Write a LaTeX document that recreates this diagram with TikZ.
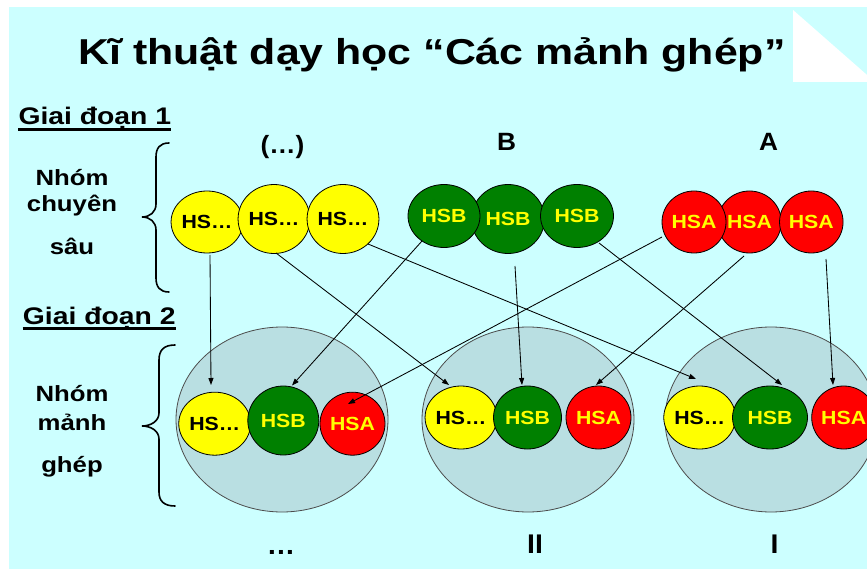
\documentclass[tikz,border=0pt]{standalone}
\usepackage{fontspec}
\setmainfont{Liberation Sans}
\usetikzlibrary{arrows.meta,calc,shapes.geometric}
\definecolor{bgcyan}{HTML}{CCFFFF}
\definecolor{grpfill}{HTML}{B9DFE2}
\definecolor{hsyellow}{HTML}{FFFF00}
\definecolor{hsgreen}{HTML}{008000}
\definecolor{hsred}{HTML}{FF0000}
\newcommand{\wide}[2]{\scalebox{#1}[1]{#2}}
\newcommand{\fs}[1]{\bfseries\fontsize{#1}{#1}\selectfont}

\begin{document}
\begin{tikzpicture}[x=1pt,y=-1pt,
  txt/.style={inner sep=0pt, anchor=base},
  stu/.style={ellipse, draw=black, line width=0.8pt, inner sep=0pt, font=\fs{19}},
  hsy/.style={stu, fill=hsyellow, text=black},
  hsg/.style={stu, fill=hsgreen, text=hsyellow},
  hsr/.style={stu, fill=hsred, text=hsyellow},
  group/.style={ellipse, draw=black!70, fill=grpfill, line width=0.8pt,
    minimum width=212pt, minimum height=185pt, inner sep=0pt},
  arr/.style={-{Triangle[length=7pt,width=5pt]}, line width=0.85pt},
  brace/.style={line width=1.6pt, line cap=round},
  uline/.style={line width=2.2pt}
]
\useasboundingbox (0,0) rectangle (867,569);

% page background and folded corner
\fill[white] (0,0) rectangle (867,569);
\fill[bgcyan] (9,7) rectangle (867,569);
\fill[white] (793,10) -- (793,82) -- (875,82) -- cycle;

% title
\node[txt, font=\fs{36}] (title) at (432,65)
  {\wide{1.19}{Kĩ thuật dạy học “Các mảnh ghép”}};

% stage headings
\node[txt, anchor=base west, font=\fs{24}] (stage1) at (18.3,125) {\wide{1.18}{Giai đoạn 1}};
\draw[uline] ([yshift=-4.5pt]stage1.base west) -- ([yshift=-4.5pt]stage1.base east);
\node[txt, anchor=base west, font=\fs{24}] (stage2) at (22.7,324) {\wide{1.18}{Giai đoạn 2}};
\draw[uline] ([yshift=-4.5pt]stage2.base west) -- ([yshift=-4.5pt]stage2.base east);

% side labels
\node[txt, font=\fs{22}] (n1a) at (72,185.7) {\wide{1.17}{Nhóm}};
\node[txt, font=\fs{22}] (n1b) at (72,211.7) {\wide{1.17}{chuyên}};
\node[txt, font=\fs{22}] (n1c) at (72,255) {\wide{1.17}{sâu}};
\node[txt, font=\fs{22}] (n2a) at (72,401.7) {\wide{1.17}{Nhóm}};
\node[txt, font=\fs{22}] (n2b) at (72,430) {\wide{1.17}{mảnh}};
\node[txt, font=\fs{22}] (n2c) at (72,472.7) {\wide{1.17}{ghép}};

% braces
\draw[brace] (169,143) .. controls (160,143) and (156,148) .. (156,157)
  -- (156,204) .. controls (156,212) and (150,217) .. (142,217)
  .. controls (150,217) and (156,222) .. (156,230)
  -- (156,278) .. controls (156,287) and (160,292) .. (169,292);
\draw[brace] (175,345) .. controls (164,345) and (159,350) .. (159,360)
  -- (159,413) .. controls (159,421) and (151,426) .. (142,426)
  .. controls (151,426) and (159,431) .. (159,439)
  -- (159,492) .. controls (159,501) and (164,506) .. (175,506);

% expert group labels
\node[txt, font=\fs{25}] (labx) at (282.5,154) {\wide{1.05}{(…)}};
\node[txt, font=\fs{25}] (labb) at (506.5,151) {\wide{1.05}{B}};
\node[txt, font=\fs{25}] (laba) at (768.5,151) {\wide{1.05}{A}};

% jigsaw groups
\node[group] (grp1) at (282,419.5) {};
\node[group] (grp2) at (528,419.5) {};
\node[group] (grp3) at (771,419.5) {};

% expert groups (stage 1)
\node[hsy, minimum width=64pt, minimum height=62pt] (sy1) at (207,222) {\wide{1.12}{HS…}};
\node[hsy, minimum width=69pt, minimum height=69pt] (sy2) at (274,219) {\wide{1.12}{HS…}};
\node[hsy, minimum width=70pt, minimum height=69pt] (sy3) at (343,219) {\wide{1.12}{HS…}};

\node[hsg, minimum width=73pt, minimum height=69pt] (sg2) at (508,219) {\wide{1.12}{HSB}};
\node[hsg, minimum width=72pt, minimum height=63pt] (sg1) at (444,216) {\wide{1.12}{HSB}};
\node[hsg, minimum width=73pt, minimum height=63pt] (sg3) at (577,216) {\wide{1.12}{HSB}};

\node[hsr, minimum width=63pt, minimum height=62pt] (sr2) at (749.5,222) {\wide{1.12}{HSA}};
\node[hsr, minimum width=64pt, minimum height=62pt] (sr1) at (694,222) {\wide{1.12}{HSA}};
\node[hsr, minimum width=63pt, minimum height=62pt] (sr3) at (811.3,222) {\wide{1.12}{HSA}};

% mixed groups (stage 2)
\node[hsy, minimum width=64pt, minimum height=63pt] (my1) at (214.7,423.7) {\wide{1.12}{HS…}};
\node[hsg, minimum width=71pt, minimum height=69pt] (mg1) at (283.3,420.5) {\wide{1.12}{HSB}};
\node[hsr, minimum width=65pt, minimum height=63pt] (mr1) at (352.5,423.7) {\wide{1.12}{HSA}};

\node[hsy, minimum width=64pt, minimum height=63pt] (my2) at (461,417.5) {\wide{1.12}{HS…}};
\node[hsg, minimum width=68pt, minimum height=63pt] (mg2) at (527.5,417.5) {\wide{1.12}{HSB}};
\node[hsr, minimum width=65pt, minimum height=63pt] (mr2) at (598.5,417.5) {\wide{1.12}{HSA}};

\node[hsy, minimum width=64pt, minimum height=63pt] (my3) at (699.7,417.5) {\wide{1.12}{HS…}};
\node[hsg, minimum width=75pt, minimum height=63pt] (mg3) at (770,417.5) {\wide{1.12}{HSB}};
\node[hsr, minimum width=64pt, minimum height=63pt] (mr3) at (843.7,417.5) {\wide{1.12}{HSA}};

% movements between stages
\draw[arr] ($(sy1)+(3,33)$) -- ($(my1)+(-3.7,-38.7)$);
\draw[arr] ($(sy2)+(2,34)$) -- ($(my2)+(-12,-32.5)$);
\draw[arr] ($(sy3)+(25,25)$) -- ($(my3)+(-3.7,-38.5)$);
\draw[arr] ($(sg1)+(-22,25)$) -- ($(mg1)+(8.7,-35)$);
\draw[arr] ($(sg2)+(7,47)$) -- ($(mg2)+(-5.5,-32.5)$);
\draw[arr] ($(sg3)+(22,27)$) -- ($(mg3)+(12,-32.5)$);
\draw[arr] ($(sr1)+(-32,15)$) -- ($(mr1)+(-4.5,-19.7)$);
\draw[arr] ($(sr2)+(-5.5,34)$) -- ($(mr2)+(-2.5,-32.5)$);
\draw[arr] ($(sr3)+(14.7,37)$) -- ($(mr3)+(-10.7,-32.5)$);

% jigsaw group labels
\node[txt, font=\fs{27}] (labj1) at (281,554) {\wide{1.05}{…}};
\node[txt, font=\fs{27}] (labj2) at (535,553) {\wide{1.05}{II}};
\node[txt, font=\fs{27}] (labj3) at (774.5,553) {\wide{1.05}{I}};
\end{tikzpicture}
\end{document}
